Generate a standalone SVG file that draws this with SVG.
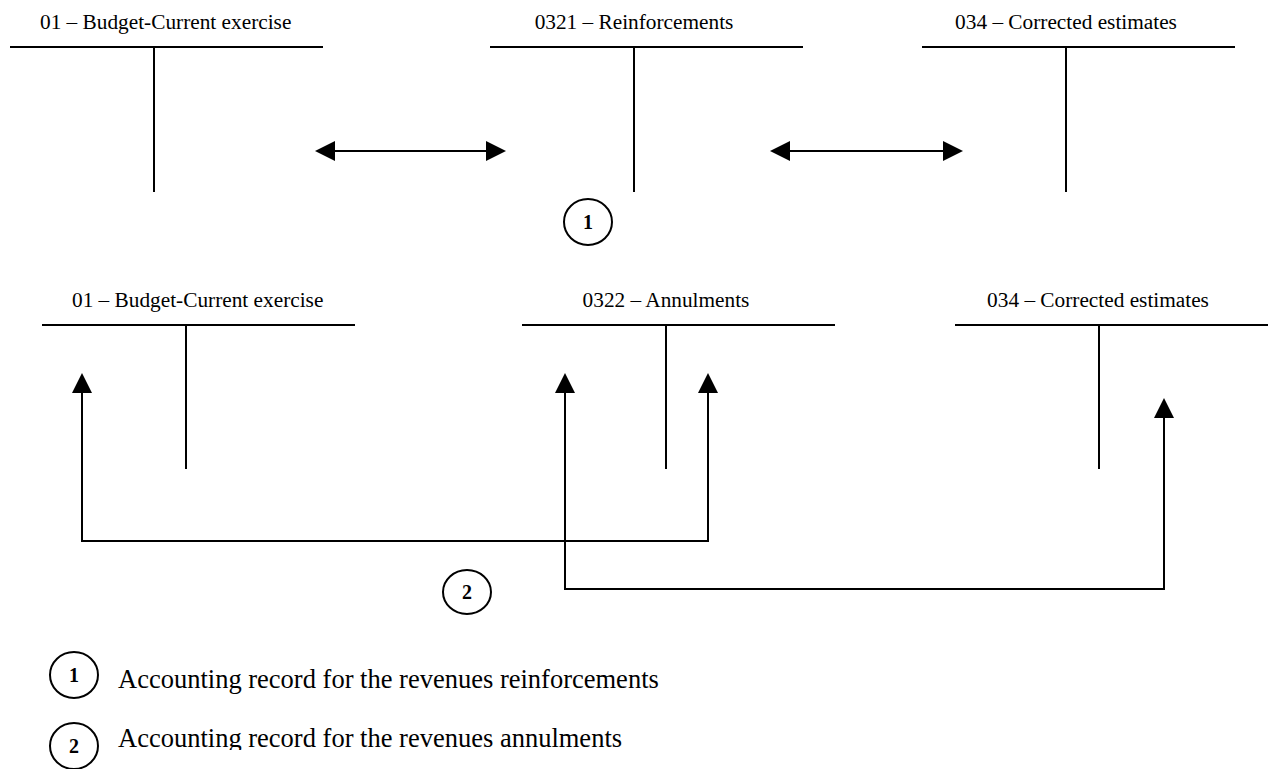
<svg xmlns="http://www.w3.org/2000/svg" width="1274" height="769" viewBox="0 0 1274 769">
  <style>
    .bg { fill: #ffffff; }
    .t { fill: none; stroke: #000; stroke-width: 2; }
    .lbl { font-family: "Liberation Serif", "Times New Roman", serif; font-size: 21.3px; fill: #000; }
    .con { fill: none; stroke: #000; stroke-width: 2; }
    .badge { fill: #fff; stroke: #000; stroke-width: 2; }
    .num { font-family: "Liberation Serif", "Times New Roman", serif; font-size: 20px; font-weight: bold; fill: #000; text-anchor: middle; }
    .legend { font-family: "Liberation Serif", "Times New Roman", serif; font-size: 26.5px; fill: #000; }
  </style>
  <defs>
    <marker id="head" markerUnits="userSpaceOnUse" markerWidth="20" markerHeight="20" viewBox="0 0 20 20" refX="0" refY="10" orient="auto-start-reverse">
      <path d="M0,0 L20,10 L0,20 Z" fill="#000"/>
    </marker>
    <clipPath id="legendClip">
      <rect x="0" y="700" width="1274" height="50"/>
    </clipPath>
  </defs>
  <rect class="bg" x="0" y="0" width="1274" height="769"/>

  <!-- Top row of T-accounts -->
  <g id="acc-01-top">
    <text class="lbl" x="40" y="29">01 – Budget-Current exercise</text>
    <path class="t" d="M10,47 H323 M154,47 V192"/>
  </g>
  <g id="acc-0321">
    <text class="lbl" x="634" y="29" text-anchor="middle">0321 – Reinforcements</text>
    <path class="t" d="M490,47 H803 M634,47 V192"/>
  </g>
  <g id="acc-034-top">
    <text class="lbl" x="1066" y="29" text-anchor="middle">034 – Corrected estimates</text>
    <path class="t" d="M922,47 H1235 M1066,47 V192"/>
  </g>

  <!-- Bottom row of T-accounts -->
  <g id="acc-01-bottom">
    <text class="lbl" x="72" y="307">01 – Budget-Current exercise</text>
    <path class="t" d="M42,325 H355 M186,325 V469"/>
  </g>
  <g id="acc-0322">
    <text class="lbl" x="666" y="307" text-anchor="middle">0322 – Annulments</text>
    <path class="t" d="M522,325 H835 M666,325 V469"/>
  </g>
  <g id="acc-034-bottom">
    <text class="lbl" x="1098" y="307" text-anchor="middle">034 – Corrected estimates</text>
    <path class="t" d="M955,325 H1268 M1099,325 V469"/>
  </g>

  <!-- Entry markers -->
  <g id="entry-1">
    <ellipse class="badge" cx="588" cy="222" rx="24" ry="23"/>
    <text class="num" x="588" y="229">1</text>
  </g>
  <g id="entry-2">
    <ellipse class="badge" cx="467" cy="592" rx="24" ry="22"/>
    <text class="num" x="467" y="599">2</text>
  </g>

  <!-- Connectors -->
  <g id="connectors">
    <path class="con" d="M335,151 H486" marker-start="url(#head)" marker-end="url(#head)"/>
    <path class="con" d="M790,151 H943" marker-start="url(#head)" marker-end="url(#head)"/>
    <path class="con" d="M82,393 V541 H708 V393" marker-start="url(#head)" marker-end="url(#head)"/>
    <path class="con" d="M565,393 V589 H1164 V418" marker-start="url(#head)" marker-end="url(#head)"/>
  </g>

  <!-- Legend -->
  <g id="legend-1">
    <ellipse class="badge" cx="74" cy="675" rx="24" ry="23"/>
    <text class="num" x="74" y="682">1</text>
    <text class="legend" x="118" y="688">Accounting record for the revenues reinforcements</text>
  </g>
  <g id="legend-2">
    <ellipse class="badge" cx="74" cy="746" rx="24" ry="23"/>
    <text class="num" x="74" y="753">2</text>
    <text class="legend" x="118" y="747" clip-path="url(#legendClip)">Accounting record for the revenues annulments</text>
  </g>
</svg>
